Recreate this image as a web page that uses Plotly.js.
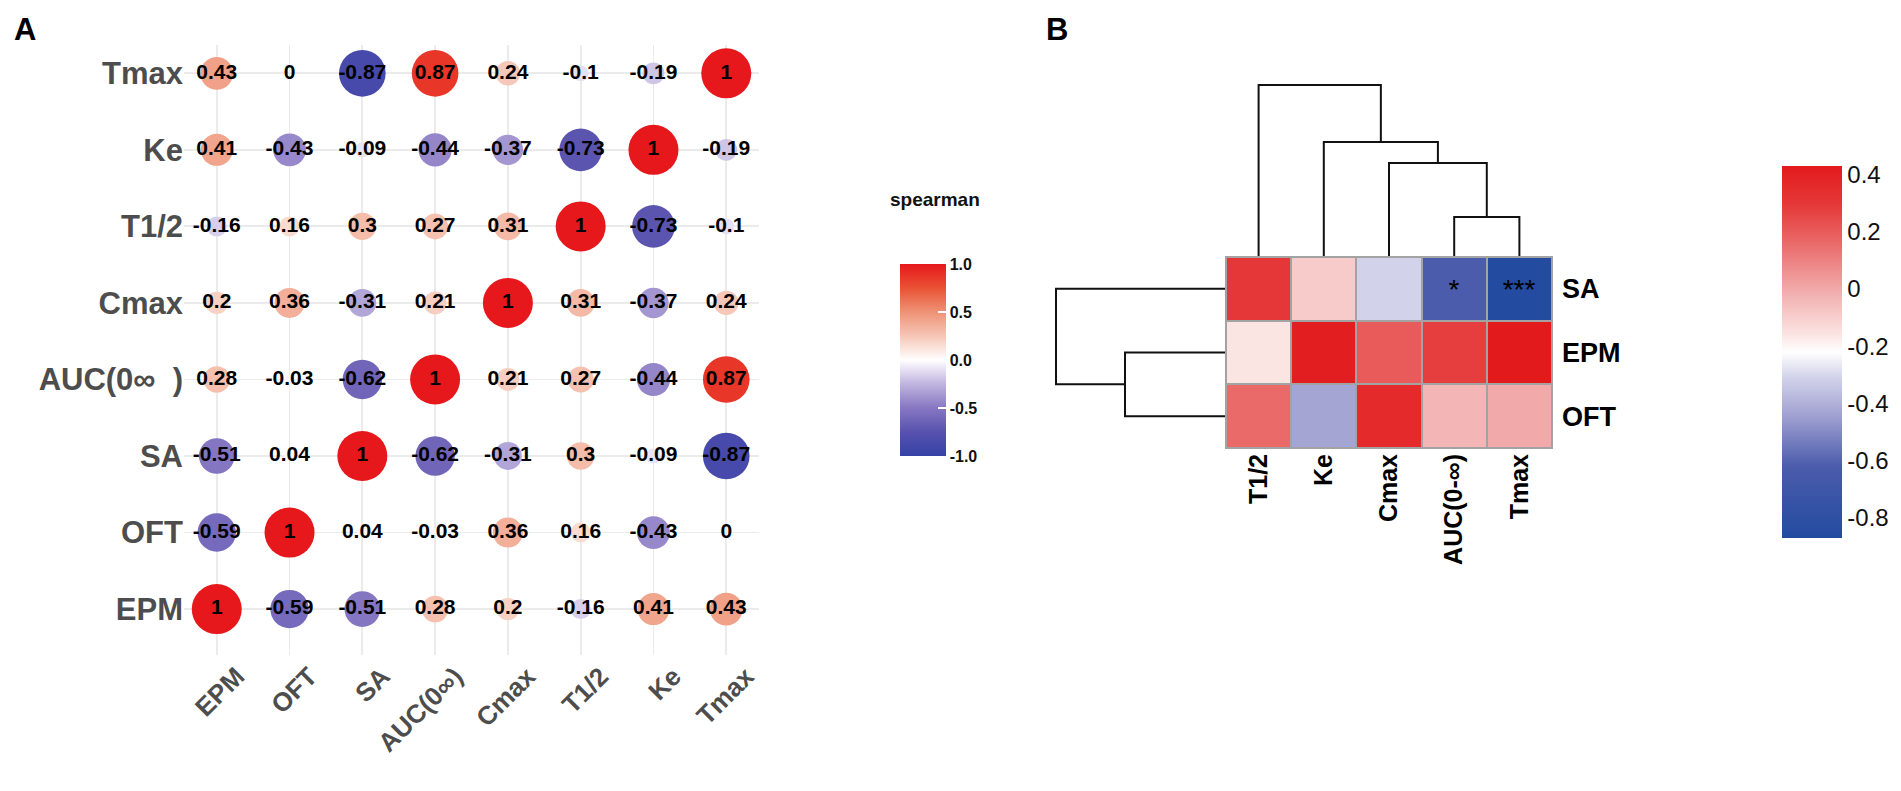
<!DOCTYPE html>
<html>
<head>
<meta charset="utf-8">
<script src="https://cdn.plot.ly/plotly-3.0.1.min.js"></script>
<style>html,body{margin:0;padding:0;background:#fff;}#chart{width:1901px;height:791px;}</style>
</head>
<body>
<div id="chart"></div>
<script>
// ---------- Panel A data: Spearman correlation matrix ----------
const varsX = ['EPM', 'OFT', 'SA', 'AUC(0∞)', 'Cmax', 'T1/2', 'Ke', 'Tmax'];
const varsY = ['EPM', 'OFT', 'SA', 'AUC(0∞  )', 'Cmax', 'T1/2', 'Ke', 'Tmax'];
// row i / column j follow the same variable order as varsX
const corrMatrix = [
  [1, -0.59, -0.51, 0.28, 0.2, -0.16, 0.41, 0.43],     // EPM
  [-0.59, 1, 0.04, -0.03, 0.36, 0.16, -0.43, 0],       // OFT
  [-0.51, 0.04, 1, -0.62, -0.31, 0.3, -0.09, -0.87],   // SA
  [0.28, -0.03, -0.62, 1, 0.21, 0.27, -0.44, 0.87],    // AUC
  [0.2, 0.36, -0.31, 0.21, 1, 0.31, -0.37, 0.24],      // Cmax
  [-0.16, 0.16, 0.3, 0.27, 0.31, 1, -0.73, -0.1],      // T1/2
  [0.41, -0.43, -0.09, -0.44, -0.37, -0.73, 1, -0.19], // Ke
  [0.43, 0, -0.87, 0.87, 0.24, -0.1, -0.19, 1]         // Tmax
];
const legendTickVals = [1, 0.5, 0, -0.5, -1];
const legendTickText = ['1.0', '0.5', '0.0', '-0.5', '-1.0'];

// ---------- Panel B data: clustered heatmap ----------
const heatCols = ['T1/2', 'Ke', 'Cmax', 'AUC(0-∞)', 'Tmax'];
const heatRows = ['SA', 'EPM', 'OFT'];
const heatSA  = [0.3, -0.09, -0.31, -0.62, -0.87];
const heatEPM = [-0.16, 0.41, 0.2, 0.28, 0.43];
const heatOFT = [0.16, -0.43, 0.36, -0.03, 0];
const starsSA  = ['', '', '', '*', '***'];
const starsEPM = ['', '', '', '', ''];
const starsOFT = ['', '', '', '', ''];
const heatTickVals = [0.4, 0.2, 0, -0.2, -0.4, -0.6, -0.8];
const heatTickText = ['0.4', '0.2', '0', '-0.2', '-0.4', '-0.6', '-0.8'];
// dendrogram merges: [childA, childB, height] ; children are leaf names or merge indices (#n)
const colMerges = [
  ['AUC(0-∞)', 'Tmax', 0.233],
  ['Cmax', '#0', 0.547],
  ['Ke', '#1', 0.669],
  ['T1/2', '#2', 1.0]
];
const rowMerges = [
  ['EPM', 'OFT', 0.594],
  ['SA', '#0', 1.0]
];

// ---------- helpers ----------
const FONT = 'Liberation Sans, Arial, Helvetica, sans-serif';
const W = 1901, H = 791;
const px = v => v / W;
const py = v => 1 - v / H;

const scaleA = [
  [0.0, 'rgb(52,66,165)'],
  [0.125, 'rgb(88,82,174)'],
  [0.25, 'rgb(134,119,194)'],
  [0.375, 'rgb(192,180,223)'],
  [0.5, 'rgb(255,255,255)'],
  [0.625, 'rgb(246,198,182)'],
  [0.75, 'rgb(239,146,118)'],
  [0.875, 'rgb(233,82,52)'],
  [1.0, 'rgb(230,24,28)']
];
const scaleB = [
  [0.0, 'rgb(35,75,160)'],
  [0.192, 'rgb(75,92,172)'],
  [0.338, 'rgb(165,165,212)'],
  [0.431, 'rgb(210,210,234)'],
  [0.5, 'rgb(255,255,255)'],
  [0.546, 'rgb(251,229,227)'],
  [0.646, 'rgb(243,181,181)'],
  [0.792, 'rgb(234,106,106)'],
  [0.9, 'rgb(229,55,55)'],
  [1.0, 'rgb(227,26,28)']
];

// ---------- Panel A trace ----------
const ax = [], ay = [], av = [], asz = [], atx = [];
for (let i = 0; i < varsY.length; i++) {
  for (let j = 0; j < varsX.length; j++) {
    const v = corrMatrix[i][j];
    ax.push(j); ay.push(i); av.push(v); asz.push(Math.abs(v)); atx.push(String(v));
  }
}
const maxD = 50;
const traceA = {
  type: 'scatter', mode: 'markers+text', xaxis: 'x', yaxis: 'y',
  x: ax, y: ay, text: atx, textposition: 'middle center',
  textfont: {family: FONT, size: 21, color: '#000', weight: 'bold'},
  cliponaxis: false, hoverinfo: 'skip', showlegend: false,
  marker: {
    size: asz, sizemode: 'area', sizeref: 2 * 1 / (maxD * maxD), line: {width: 0}, opacity: 1,
    color: av, cmin: -1, cmax: 1, colorscale: scaleA, showscale: true,
    colorbar: {
      x: px(900), xanchor: 'left', y: py(360), yanchor: 'middle',
      len: 192, lenmode: 'pixels', thickness: 46, thicknessmode: 'pixels',
      xpad: 0, ypad: 0, outlinewidth: 0,
      tickvals: legendTickVals, ticktext: legendTickText,
      ticks: 'inside', ticklen: 8, tickcolor: '#ffffff', tickwidth: 1.5,
      tickfont: {family: FONT, size: 16, color: '#111', weight: 'bold'}
    }
  }
};

// ---------- Panel B heatmap ----------
const heatZ = [heatSA, heatEPM, heatOFT];
const heatText = [starsSA, starsEPM, starsOFT];
const allHeat = heatZ.flat();
const traceB = {
  type: 'heatmap', xaxis: 'x2', yaxis: 'y2',
  x: heatCols.map((_, i) => i), y: heatRows.map((_, i) => i),
  z: heatZ, text: heatText, texttemplate: '%{text}',
  textfont: {family: FONT, size: 28, color: '#000'},
  zmin: Math.min(...allHeat), zmax: Math.max(...allHeat),
  colorscale: scaleB, xgap: 2, ygap: 2, hoverinfo: 'skip',
  colorbar: {
    x: px(1782), xanchor: 'left', y: py(352), yanchor: 'middle',
    len: 372, lenmode: 'pixels', thickness: 60, thicknessmode: 'pixels',
    xpad: 0, ypad: 0, outlinewidth: 0,
    tickvals: heatTickVals, ticktext: heatTickText, ticks: '',
    tickfont: {family: FONT, size: 24, color: '#111'}
  }
};

// ---------- dendrograms ----------
function dendroLines(merges, leaves) {
  const nodes = [];
  const pos = name => {
    if (typeof name === 'string' && name.startsWith('#')) return nodes[+name.slice(1)];
    return {p: leaves.indexOf(name), h: 0};
  };
  const P = [], Hh = [];
  merges.forEach(m => {
    const a = pos(m[0]), b = pos(m[1]), h = m[2];
    P.push(a.p, a.p, b.p, b.p, null);
    Hh.push(a.h, h, h, b.h, null);
    nodes.push({p: (a.p + b.p) / 2, h: h});
  });
  return {P, Hh};
}
const cd = dendroLines(colMerges, heatCols);
const rd = dendroLines(rowMerges, heatRows);
const traceColDendro = {
  type: 'scatter', mode: 'lines', xaxis: 'x2', yaxis: 'y3',
  x: cd.P, y: cd.Hh, line: {color: '#111', width: 2}, hoverinfo: 'skip', showlegend: false
};
const traceRowDendro = {
  type: 'scatter', mode: 'lines', xaxis: 'x4', yaxis: 'y2',
  x: rd.Hh, y: rd.P, line: {color: '#111', width: 2}, hoverinfo: 'skip', showlegend: false
};

// ---------- layout ----------
const tickFontAx = {family: FONT, size: 26, color: '#4d4d4d', weight: 'bold'};
const tickFontAy = {family: FONT, size: 31, color: '#4d4d4d', weight: 'bold'};
const tickFontBx = {family: FONT, size: 25, color: '#000', weight: 'bold'};
const tickFontBy = {family: FONT, size: 27, color: '#000', weight: 'bold'};
const layout = {
  width: W, height: H, margin: {l: 0, r: 0, t: 0, b: 0},
  paper_bgcolor: '#fff', plot_bgcolor: 'rgba(0,0,0,0)',
  font: {family: FONT},
  showlegend: false,
  xaxis: {
    domain: [px(184), px(759)], range: [-0.45, 7.45], anchor: 'y',
    tickvals: varsX.map((_, i) => i), ticktext: varsX, tickangle: -45, ticklabelshift: 20,
    showgrid: true, gridcolor: '#ebebeb', gridwidth: 1.8, zeroline: false, showline: false,
    ticks: '', tickfont: tickFontAx, fixedrange: true
  },
  yaxis: {
    domain: [py(655), py(45)], range: [-0.6, 7.37], anchor: 'x',
    tickvals: varsY.map((_, i) => i), ticktext: varsY,
    showgrid: true, gridcolor: '#ebebeb', gridwidth: 1.8, zeroline: false, showline: false,
    ticks: '', tickfont: tickFontAy, fixedrange: true
  },
  xaxis2: {
    domain: [px(1226), px(1552)], range: [-0.5, 4.5], anchor: 'y2',
    tickvals: heatCols.map((_, i) => i), ticktext: heatCols, tickangle: -90,
    showgrid: false, zeroline: false, showline: false, ticks: '', tickfont: tickFontBx
  },
  yaxis2: {
    domain: [py(448), py(257)], range: [2.5, -0.5], anchor: 'x2', side: 'right',
    tickvals: heatRows.map((_, i) => i), ticktext: heatRows, ticklabelstandoff: 9,
    showgrid: false, zeroline: false, showline: false, ticks: '', tickfont: tickFontBy
  },
  yaxis3: {
    domain: [py(257), py(257 - 172 * 1.02)], range: [0, 1.02], anchor: 'x2', visible: false
  },
  xaxis4: {
    domain: [px(1226 - 170 * 1.02), px(1226)], range: [1.02, 0], anchor: 'y2', visible: false
  },
  shapes: [
    {type: 'rect', xref: 'x2 domain', yref: 'y2 domain', x0: 0, x1: 1, y0: 0, y1: 1,
     fillcolor: '#a3a3a3', line: {width: 0}, layer: 'below'},
    {type: 'rect', xref: 'x2 domain', yref: 'y2 domain', x0: 0, x1: 1, y0: 0, y1: 1,
     fillcolor: 'rgba(0,0,0,0)', line: {width: 2, color: '#a3a3a3'}, layer: 'above'}
  ],
  annotations: [
    {text: 'A', x: px(12), y: py(10), xref: 'paper', yref: 'paper', xanchor: 'left', yanchor: 'top',
     showarrow: false, font: {family: FONT, size: 31, color: '#000', weight: 'bold'}},
    {text: 'B', x: px(1044), y: py(10), xref: 'paper', yref: 'paper', xanchor: 'left', yanchor: 'top',
     showarrow: false, font: {family: FONT, size: 31, color: '#000', weight: 'bold'}},
    {text: 'spearman', x: px(888), y: py(200), xref: 'paper', yref: 'paper', xanchor: 'left', yanchor: 'middle',
     showarrow: false, font: {family: FONT, size: 19, color: '#111', weight: 'bold'}}
  ]
};

Plotly.newPlot('chart', [traceA, traceB, traceColDendro, traceRowDendro], layout, {staticPlot: true, displayModeBar: false});
</script>
</body>
</html>
